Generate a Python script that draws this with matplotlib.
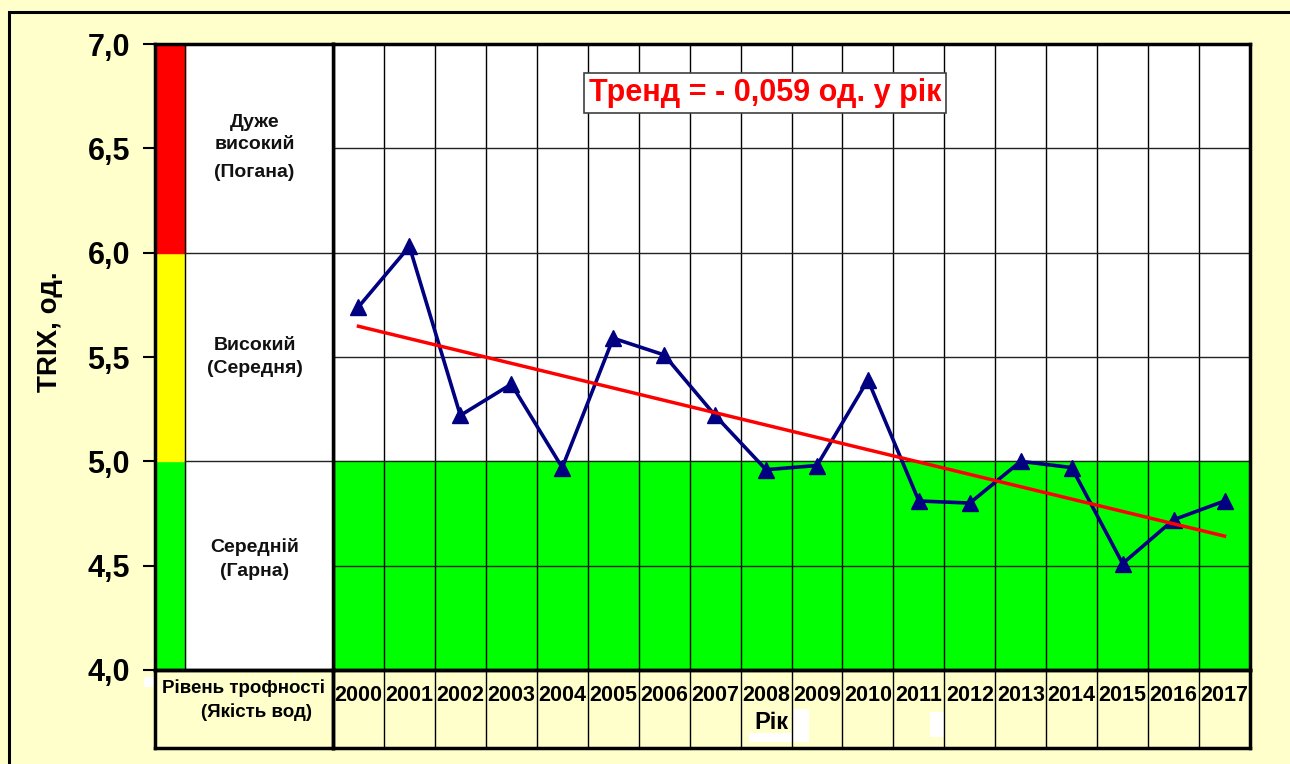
import numpy as np
import matplotlib
matplotlib.use("Agg")
import matplotlib.pyplot as plt
from matplotlib.patches import Rectangle

plt.rcParams["font.family"] = ["Liberation Sans", "DejaVu Sans"]
plt.rcParams["font.weight"] = "bold"

# data
years = list(range(2000, 2018))
trix = [5.74, 6.03, 5.22, 5.37, 4.97, 5.59, 5.51, 5.22, 4.96,
        4.98, 5.39, 4.81, 4.80, 5.00, 4.97, 4.51, 4.72, 4.81]
ytick_vals = [4.0, 4.5, 5.0, 5.5, 6.0, 6.5, 7.0]
ytick_labels = ["4,0", "4,5", "5,0", "5,5", "6,0", "6,5", "7,0"]
zone_bounds = [(4.0, 5.0), (5.0, 6.0), (6.0, 7.0)]
zone_colors = ["#00FF00", "#FFFF00", "#FF0000"]
trend_text = "Тренд = - 0,059 од. у рік"

W, H = 1290, 764
BG = "#FFFFCC"


def fx(x):
    return x / W


def fy(y):
    return 1 - y / H


fig = plt.figure(figsize=(W / 100, H / 100), dpi=100, facecolor=BG)

# outer frame (runs off the right and bottom edges like the original)
fig.add_artist(Rectangle((fx(8.5), -0.5), 1.5, fy(11.5) + 0.5, transform=fig.transFigure,
                         fill=False, lw=2.2, ec="black", zorder=-2))

# white artifacts from the original
for (x0, y0, x1, y1) in [(144, 677, 157, 687), (793, 709, 809, 742),
                         (749, 733, 793, 742), (930, 712, 944, 737)]:
    fig.add_artist(Rectangle((fx(x0), fy(y1)), fx(x1 - x0), (y1 - y0) / H,
                             transform=fig.transFigure, fc="white", ec="none", zorder=-1))

top, bot = 44, 670
# main plot
ax = fig.add_axes([fx(333), fy(bot), fx(1250 - 333), (bot - top) / H])
ax.set_xlim(-0.5, len(years) - 0.5)
ax.set_ylim(4, 7)
ax.set_facecolor("white")
ax.axhspan(4, 5, color="#00FF00", zorder=0)
for b in np.arange(0.5, len(years) - 1, 1):
    ax.axvline(b, color="black", lw=1.0, zorder=1)
for v in ytick_vals[1:-1]:
    ax.axhline(v, color="#222222", lw=1.0, zorder=1)
ax.set_xticks([])
ax.set_yticks(ytick_vals[1:-1])
ax.set_yticklabels([])
ax.tick_params(axis="y", direction="out", length=7, width=1.0)
for s in ax.spines.values():
    s.set_linewidth(2.5)

x = np.arange(len(years))
ax.plot(x, trix, color="#000080", lw=2.6, marker="^", markersize=12, zorder=3)
coef = np.polyfit(x, trix, 1)
ax.plot([x[0], x[-1]], np.polyval(coef, [x[0], x[-1]]), color="#FF0000", lw=2.5, zorder=4)

ax.text(0.471, 0.922, trend_text, transform=ax.transAxes, ha="center", va="center",
        color="#FF0000", fontsize=22, fontweight="bold", zorder=5,
        bbox=dict(boxstyle="square,pad=0.16", fc="white", ec="#404040", lw=1.2))

# left scale column
axl = fig.add_axes([fx(155), fy(bot), fx(333 - 155), (bot - top) / H])
axl.set_xlim(0, 1)
axl.set_ylim(4, 7)
axl.set_facecolor("white")
cw = 30 / 178
for (lo, hi), c in zip(zone_bounds, zone_colors):
    axl.axhspan(lo, hi, xmin=0, xmax=cw, color=c, zorder=0)
axl.axvline(cw, color="black", lw=1.0)
for lo, hi in zone_bounds[1:]:
    axl.axhline(lo, xmin=cw, xmax=1, color="#222222", lw=1.0)
axl.set_xticks([])
axl.set_yticks(ytick_vals)
axl.set_yticklabels(ytick_labels, fontsize=22, fontweight="bold")
axl.tick_params(axis="y", direction="out", length=9, width=1.5, pad=9)
for s in axl.spines.values():
    s.set_linewidth(2.5)


def vpx(y):
    return 7 - (y - top) / ((bot - top) / 3)


lab_kw = dict(ha="center", va="center", fontsize=14, fontweight="bold", color="#111111")
for txt, ypix in [("Дуже", 122), ("високий", 144), ("(Погана)", 173),
                  ("Високий", 345), ("(Середня)", 369),
                  ("Середній", 547), ("(Гарна)", 572)]:
    axl.text(0.56, vpx(ypix), txt, **lab_kw)

fig.text(fx(50), fy(332), "TRIX, од.", rotation=90, ha="center", va="center",
         fontsize=20, fontweight="bold")

# bottom table
tb = 748
axt = fig.add_axes([fx(333), fy(tb), fx(1250 - 333), (tb - bot) / H])
axt.set_xlim(-0.5, len(years) - 0.5)
axt.set_ylim(0, 1)
axt.set_facecolor("none")
for b in np.arange(0.5, len(years) - 1, 1):
    axt.axvline(b, color="black", lw=1.0)
for i, yr in enumerate(years):
    axt.text(i, 0.67, str(yr), ha="center", va="center", fontsize=15.5, fontweight="bold")
axt.text(0.4777, 0.33, "Рік", transform=axt.transAxes, ha="center", va="center",
         fontsize=17, fontweight="bold")
axt.set_xticks([])
axt.set_yticks([])
for s in axt.spines.values():
    s.set_linewidth(2.5)

axc = fig.add_axes([fx(155), fy(tb), fx(333 - 155), (tb - bot) / H])
axc.set_facecolor("none")
axc.set_xticks([])
axc.set_yticks([])
for s in axc.spines.values():
    s.set_linewidth(2.5)
axc.text(0.5, 0.77, "Рівень трофності", ha="center", va="center", fontsize=13.5, fontweight="bold")
axc.text(0.573, 0.46, "(Якість вод)", ha="center", va="center", fontsize=13.5, fontweight="bold")

fig.savefig("out.png", dpi=100, facecolor=BG)
